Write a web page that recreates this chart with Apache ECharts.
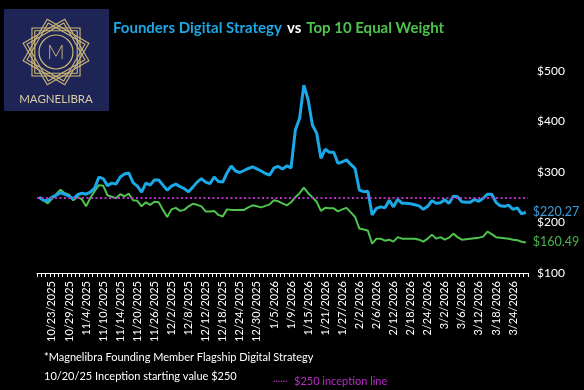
<!DOCTYPE html>
<html><head><meta charset="utf-8">
<script src="https://cdn.jsdelivr.net/npm/echarts@6/dist/echarts.min.js"></script>
<style>html,body{margin:0;padding:0;background:#000;}#c{width:584px;height:390px;}</style>
</head><body><div id="c"></div>
<script>
const dates = [
'10/20/2025','10/21/2025','10/22/2025','10/23/2025','10/24/2025','10/27/2025','10/28/2025','10/29/2025','10/30/2025','10/31/2025',
'11/3/2025','11/4/2025','11/5/2025','11/6/2025','11/7/2025','11/10/2025','11/11/2025','11/12/2025','11/13/2025','11/14/2025',
'11/17/2025','11/18/2025','11/19/2025','11/20/2025','11/21/2025','11/24/2025','11/25/2025','11/26/2025','11/27/2025','11/28/2025',
'12/1/2025','12/2/2025','12/3/2025','12/4/2025','12/5/2025','12/8/2025','12/9/2025','12/10/2025','12/11/2025','12/12/2025',
'12/15/2025','12/16/2025','12/17/2025','12/18/2025','12/19/2025','12/22/2025','12/23/2025','12/24/2025','12/25/2025','12/26/2025',
'12/29/2025','12/30/2025','12/31/2025','1/1/2026','1/2/2026','1/5/2026','1/6/2026','1/7/2026','1/8/2026','1/9/2026',
'1/12/2026','1/13/2026','1/14/2026','1/15/2026','1/16/2026','1/19/2026','1/20/2026','1/21/2026','1/22/2026','1/23/2026',
'1/26/2026','1/27/2026','1/28/2026','1/29/2026','1/30/2026','2/2/2026','2/3/2026','2/4/2026','2/5/2026','2/6/2026',
'2/9/2026','2/10/2026','2/11/2026','2/12/2026','2/13/2026','2/16/2026','2/17/2026','2/18/2026','2/19/2026','2/20/2026',
'2/23/2026','2/24/2026','2/25/2026','2/26/2026','2/27/2026','3/2/2026','3/3/2026','3/4/2026','3/5/2026','3/6/2026',
'3/9/2026','3/10/2026','3/11/2026','3/12/2026','3/13/2026','3/16/2026','3/17/2026','3/18/2026','3/19/2026','3/20/2026',
'3/23/2026','3/24/2026','3/25/2026','3/26/2026','3/27/2026'
];
const founders = [
250,244,243,250,254,259,256,252,247,255,
258,256,260,268,290,287,273,278,276,290,
296,298,279,272,260,278,274,284,284,274,
264,272,276,271,267,261,270,280,287,280,
277,290,281,280,298,312,302,299,303,307,
310,306,302,297,294,308,311,306,312,308,
383,406,472,443,393,377,327,345,339,339,
317,320,324,315,307,264,261,262,215,228,
231,229,244,231,246,238,238,237,235,233,
226,232,243,238,239,245,238,252,251,241,
240,240,246,242,248,256,256,240,233,232,
234,226,229,217,220.27
];
const top10 = [
250,244,238,247,256,265,258,255,244,251,
246,232,249,262,274,273,254,251,248,256,
252,257,244,243,232,240,235,241,240,225,
211,226,229,223,225,232,237,235,232,222,
222,223,215,212,226,225,225,225,225,230,
234,232,230,233,236,244,242,238,234,240,
250,258,269,258,250,241,223,229,228,228,
222,226,229,220,211,188,186,184,158,168,
168,164,166,162,171,168,168,168,168,166,
162,168,176,168,171,166,170,178,171,166,
167,168,169,170,172,182,177,171,170,169,
168,166,165,162,160.49
];
const inceptionValue = 250;
const yTicks = [100, 200, 300, 400, 500];

const FONT = 'Lato';
const GOLD = '#CDB878';
const MAGENTA = '#B52EC4';
const chart = echarts.init(document.getElementById('c'), null, {renderer: 'canvas'});

// logo decoration
const cx = 56, cy = 52;
function square(R, rotDeg) {
  const pts = [];
  for (let k = 0; k < 4; k++) {
    const a = (rotDeg + 45 + k * 90) * Math.PI / 180;
    pts.push([cx + R * Math.cos(a), cy + R * Math.sin(a)]);
  }
  return pts;
}
const gfx = [
  {type: 'rect', shape: {x: 4, y: 9, width: 105, height: 102}, style: {fill: '#1F2457'}}
];
[0, 30, 60].forEach(r => {
  [34, 30].forEach(R => {
    gfx.push({type: 'polygon', shape: {points: square(R, r)}, style: {fill: 'none', stroke: GOLD, lineWidth: 1.1}});
  });
});
gfx.push({type: 'circle', shape: {cx: cx, cy: cy, r: 17}, style: {fill: '#1F2457', stroke: GOLD, lineWidth: 1.2}});
gfx.push({type: 'text', x: cx, y: cy + 1, style: {text: 'M', fill: GOLD, font: '300 19px ' + FONT, align: 'center', verticalAlign: 'middle'}});
gfx.push({type: 'text', x: cx, y: 99, style: {text: 'MAGNELIBRA', fill: '#D8CDA3', font: '11.5px ' + FONT, align: 'center', verticalAlign: 'middle'}});
gfx.push({type: 'text', x: 44, y: 357, style: {text: '*Magnelibra Founding Member Flagship Digital Strategy', fill: '#ffffff', font: '11px ' + FONT, verticalAlign: 'middle'}});
gfx.push({type: 'text', x: 44, y: 376, style: {text: '10/20/25 Inception starting value $250', fill: '#ffffff', font: '11px ' + FONT, verticalAlign: 'middle'}});
gfx.push({type: 'text', x: 273, y: 379, style: {text: '......', fill: MAGENTA, font: 'bold 10px ' + FONT, verticalAlign: 'middle'}});
gfx.push({type: 'text', x: 294, y: 381, style: {text: '$250 inception line', fill: MAGENTA, font: '11px ' + FONT, verticalAlign: 'middle'}});

const option = {
  backgroundColor: '#000000',
  animation: false,
  title: {
    text: '{a|Founders Digital Strategy} {b|vs} {c|Top 10 Equal Weight}',
    left: 113, top: 19, padding: 0,
    textStyle: {
      rich: {
        a: {color: '#1BA7E3', fontSize: 15, fontWeight: 'bold', fontFamily: FONT},
        b: {color: '#ffffff', fontSize: 15, fontWeight: 'bold', fontFamily: FONT},
        c: {color: '#4DC34D', fontSize: 15, fontWeight: 'bold', fontFamily: FONT}
      }
    }
  },
  graphic: gfx,
  grid: {left: 37, right: 56, top: 71, bottom: 117},
  xAxis: {
    type: 'category',
    data: dates,
    boundaryGap: true,
    axisLine: {lineStyle: {color: '#ffffff', width: 1}},
    axisTick: {show: true, interval: 0, length: 4, lineStyle: {color: '#ffffff'}},
    axisLabel: {
      color: '#ffffff', fontSize: 11, fontFamily: FONT, rotate: 90, margin: 8,
      interval: function (idx) { return idx % 4 === 3; }
    },
    splitLine: {show: false}
  },
  yAxis: {
    type: 'value', position: 'right',
    min: yTicks[0], max: yTicks[yTicks.length - 1], interval: 100,
    axisLine: {show: false}, axisTick: {show: false}, splitLine: {show: false},
    axisLabel: {color: '#ffffff', fontSize: 12, fontFamily: FONT, margin: 9, formatter: '${value}'}
  },
  series: [
    {
      name: '$250 inception line', type: 'line', data: [], symbol: 'none',
      markLine: {
        silent: true, symbol: ['none', 'none'], label: {show: false},
        lineStyle: {color: MAGENTA, type: [2, 2.5], width: 2},
        data: [{yAxis: inceptionValue}]
      }
    },
    {
      name: 'Top 10 Equal Weight', type: 'line', data: top10, symbol: 'none',
      lineStyle: {color: '#4EC34E', width: 2}, itemStyle: {color: '#4EC34E'},
      endLabel: {show: true, color: '#4CB34C', fontSize: 12.5, fontFamily: FONT, distance: 7,
        formatter: p => '$' + p.value.toFixed(2)}
    },
    {
      name: 'Founders Digital Strategy', type: 'line', data: founders, symbol: 'none',
      lineStyle: {color: '#1AA9E6', width: 3}, itemStyle: {color: '#1AA9E6'},
      endLabel: {show: true, color: '#3E9BD6', fontSize: 12.5, fontFamily: FONT, distance: 7,
        formatter: p => '$' + p.value.toFixed(2)}
    }
  ]
};
chart.setOption(option);
</script>
</body></html>
